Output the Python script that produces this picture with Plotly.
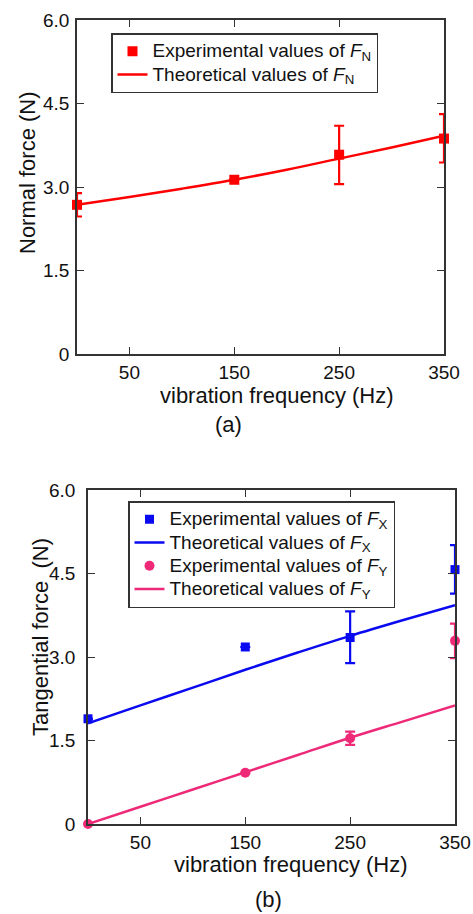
import plotly.graph_objects as go

# ---- data (a) ----
freq_exp = [0, 150, 250, 350]
fn_exp = [2.68, 3.13, 3.58, 3.87]
fn_err_plus = [0.21, 0.0, 0.52, 0.44]
fn_err_minus = [0.21, 0.0, 0.53, 0.43]
freq_theo = [0, 50, 100, 150, 200, 250, 300, 350]
fn_theo = [2.68, 2.82, 2.97, 3.13, 3.31, 3.51, 3.71, 3.92]

# ---- data (b) ----
fx_exp = [1.89, 3.18, 3.35, 4.57]
fx_err_plus = [0.0, 0.0, 0.47, 0.44]
fx_err_minus = [0.0, 0.0, 0.46, 0.43]
fx_theo = [1.81, 2.13, 2.45, 2.77, 3.08, 3.38, 3.66, 3.93]
fy_exp = [0.0, 0.92, 1.54, 3.29]
fy_err_plus = [0.0, 0.0, 0.12, 0.31]
fy_err_minus = [0.0, 0.0, 0.12, 0.31]
fy_theo = [0.0, 0.31, 0.62, 0.93, 1.24, 1.55, 1.84, 2.13]

x_tickvals = [50, 150, 250, 350]
y_tickvals = [0, 1.5, 3.0, 4.5, 6.0]
y_ticktext = ["0", "1.5", "3.0", "4.5", "6.0"]

RED = "#ff0000"
BLUE = "#0a0af0"
PINK = "#ee2a78"
INK = "#111111"
FONT = "Liberation Sans, Arial, sans-serif"

W, H = 473, 914


def px(x):
    return x / W


def py(y):
    return 1 - y / H


def legend_text(s):
    return '<span style="font-size:19px">' + s + "</span>"


fig = go.Figure()

# (a)
fig.add_trace(go.Scatter(
    x=freq_exp, y=fn_exp, mode="markers", xaxis="x", yaxis="y",
    marker=dict(symbol="square", size=10, color=RED),
    error_y=dict(type="data", array=fn_err_plus, arrayminus=fn_err_minus,
                 color=RED, thickness=2.2, width=5),
    name=legend_text("Experimental values of <i>F</i><sub>N</sub>"),
    legend="legend", cliponaxis=False))
fig.add_trace(go.Scatter(
    x=freq_theo, y=fn_theo, mode="lines", xaxis="x", yaxis="y",
    line=dict(color=RED, width=2.5, shape="spline"),
    name=legend_text("Theoretical values of <i>F</i><sub>N</sub>"),
    legend="legend"))

# (b)
fig.add_trace(go.Scatter(
    x=freq_exp, y=fx_exp, mode="markers", xaxis="x2", yaxis="y2",
    marker=dict(symbol="square", size=9, color=BLUE),
    error_y=dict(type="data", array=fx_err_plus, arrayminus=fx_err_minus,
                 color=BLUE, thickness=2.2, width=5),
    name=legend_text("Experimental values of <i>F</i><sub>X</sub>"),
    legend="legend2", cliponaxis=False))
fig.add_trace(go.Scatter(
    x=freq_theo, y=fx_theo, mode="lines", xaxis="x2", yaxis="y2",
    line=dict(color=BLUE, width=2.5, shape="spline"),
    name=legend_text("Theoretical values of <i>F</i><sub>X</sub>"),
    legend="legend2"))
fig.add_trace(go.Scatter(
    x=freq_exp, y=fy_exp, mode="markers", xaxis="x2", yaxis="y2",
    marker=dict(symbol="circle", size=10, color=PINK),
    error_y=dict(type="data", array=fy_err_plus, arrayminus=fy_err_minus,
                 color=PINK, thickness=2.2, width=5),
    name=legend_text("Experimental values of <i>F</i><sub>Y</sub>"),
    legend="legend2", cliponaxis=False))
fig.add_trace(go.Scatter(
    x=freq_theo, y=fy_theo, mode="lines", xaxis="x2", yaxis="y2",
    line=dict(color=PINK, width=2.5, shape="spline"),
    name=legend_text("Theoretical values of <i>F</i><sub>Y</sub>"),
    legend="legend2"))

axis_common = dict(
    showgrid=False, zeroline=False, showline=True, linecolor="#333333",
    linewidth=1.5, mirror="allticks", ticks="inside", ticklen=7,
    tickwidth=1.2, tickcolor="#333333", automargin=False,
    tickfont=dict(family=FONT, size=19, color=INK),
)


def xaxis(l, r, anchor):
    return dict(axis_common, domain=[px(l), px(r)], anchor=anchor,
                range=[0, 350], tickvals=x_tickvals, ticklabelstandoff=0)


def yaxis(t, b, anchor, standoff):
    return dict(axis_common, domain=[py(b), py(t)], anchor=anchor,
                range=[0, 6.0], tickvals=y_tickvals, ticktext=y_ticktext,
                ticklabelstandoff=standoff)


legend_common = dict(
    bgcolor="white", bordercolor="#333333", borderwidth=1.5,
    font=dict(family=FONT, size=15.6, color=INK),
    xanchor="left", yanchor="top", tracegroupgap=0, itemwidth=30,
)


def label(text, x, y, angle=0):
    return dict(text=text, x=px(x), y=py(y), xref="paper", yref="paper",
                xanchor="center", yanchor="middle", showarrow=False,
                textangle=angle, font=dict(family=FONT, size=22, color=INK))


fig.update_layout(
    template="none",
    width=W, height=H, autosize=False,
    margin=dict(l=0, r=0, t=0, b=0),
    paper_bgcolor="white", plot_bgcolor="white",
    font=dict(family=FONT, color=INK),
    xaxis=xaxis(77, 444, "y"),
    yaxis=yaxis(20, 354, "x", 2),
    xaxis2=xaxis(88, 455, "y2"),
    yaxis2=yaxis(490, 824, "x2", 7),
    legend=dict(legend_common, x=px(111), y=py(33)),
    legend2=dict(legend_common, x=px(128), y=py(501)),
    annotations=[
        label("vibration frequency (Hz)", 277, 395),
        label("Normal force (N)", 27, 173, -90),
        label("vibration frequency (Hz)", 291, 864),
        label("Tangential force  (N)", 40, 637, -90),
        label("(a)", 228, 424),
        label("(b)", 268, 899),
    ],
)

fig.write_html(
    "out.html",
    config={"displayModeBar": False},
    post_script="document.body.style.margin='0';"
                "document.body.style.overflow='hidden';",
)
